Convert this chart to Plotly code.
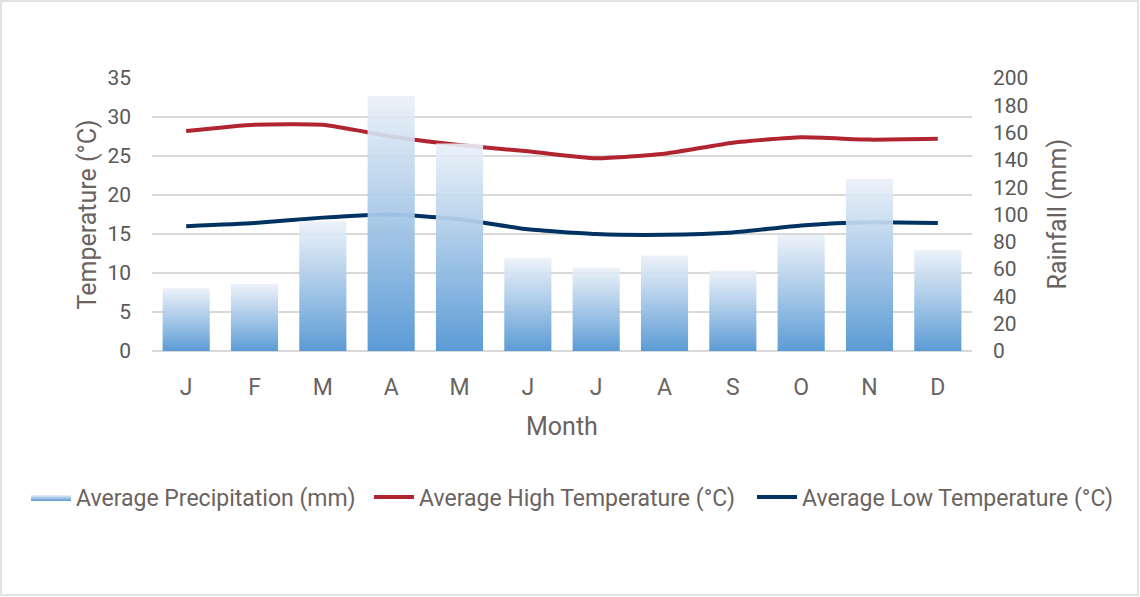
import plotly.graph_objects as go

months = ["J", "F", "M", "A", "M", "J", "J", "A", "S", "O", "N", "D"]
precip_mm = [46, 49, 95, 187, 152, 68, 61, 70, 59, 85, 126, 74]
high_c = [28.2, 29.0, 29.0, 27.5, 26.4, 25.6, 24.7, 25.3, 26.7, 27.4, 27.1, 27.2]
low_c = [16.0, 16.4, 17.1, 17.5, 16.9, 15.6, 15.0, 14.9, 15.2, 16.1, 16.5, 16.4]

temp_ticks = [0, 5, 10, 15, 20, 25, 30, 35]
rain_ticks = [0, 20, 40, 60, 80, 100, 120, 140, 160, 180, 200]

BAR_BOTTOM = "#5B9BD5"
BAR_TOP = "rgba(234,240,248,0.9)"
RED = "#B0252F"
NAVY = "#003361"
TEXT = "#595959"
TITLE = "#6B6360"
GRID = "#D9D9D9"
FONT = "Roboto"

W, H = 1140, 597
L, R, T, B = 152, 168, 78, 246
PW, PH = W - L - R, H - T - B

fig = go.Figure()

half = 0.345
xs = list(range(len(months)))
for i, v in enumerate(precip_mm):
    fig.add_trace(go.Scatter(
        x=[i - half, i + half, i + half, i - half, i - half],
        y=[0, 0, v, v, 0],
        mode="lines",
        line=dict(width=0, color=BAR_BOTTOM),
        fill="toself",
        fillcolor=BAR_BOTTOM,
        fillgradient=dict(type="vertical", start=0, stop=v,
                          colorscale=[[0, BAR_BOTTOM], [1, BAR_TOP]]),
        name="Average Precipitation (mm)",
        legendgroup="precip",
        legend="legend",
        showlegend=(i == 0),
        yaxis="y2",
        hoverinfo="skip",
    ))

fig.add_trace(go.Scatter(
    x=xs, y=high_c, mode="lines",
    line=dict(color=RED, width=4, shape="spline", smoothing=0.5),
    name="Average High Temperature (°C)",
    legend="legend2",
))
fig.add_trace(go.Scatter(
    x=xs, y=low_c, mode="lines",
    line=dict(color=NAVY, width=4, shape="spline", smoothing=0.5),
    name="Average Low Temperature (°C)",
    legend="legend3",
))


def legend_at(left_px):
    return dict(
        orientation="h", xref="container", yref="container",
        x=left_px / W, xanchor="left", y=1 - 497 / H, yanchor="middle",
        font=dict(size=23, color=TITLE),
        itemwidth=40, bgcolor="rgba(0,0,0,0)",
    )


fig.update_layout(
    width=W, height=H,
    margin=dict(l=L, r=R, t=T, b=B),
    paper_bgcolor="white", plot_bgcolor="white",
    font=dict(family=FONT, color=TEXT),
    xaxis=dict(
        range=[-0.5, len(months) - 0.5],
        tickmode="array", tickvals=xs, ticktext=months,
        tickfont=dict(size=23, color=TITLE),
        ticklabelstandoff=20,
        showgrid=False, zeroline=False,
        showline=False, fixedrange=True,
    ),
    yaxis=dict(
        range=[0, 35], tickmode="array", tickvals=temp_ticks,
        tickfont=dict(size=21, color=TEXT),
        ticklabelstandoff=20,
        showgrid=True, gridcolor=GRID, gridwidth=1.5,
        zeroline=True, zerolinecolor=GRID, zerolinewidth=1.5,
        showline=False,
    ),
    yaxis2=dict(
        range=[0, 200], tickmode="array", tickvals=rain_ticks,
        overlaying="y", side="right",
        tickfont=dict(size=21, color=TEXT),
        ticklabelstandoff=20,
        showgrid=False, zeroline=False, showline=False,
    ),
    legend=legend_at(26),
    legend2=legend_at(369),
    legend3=legend_at(752),
    showlegend=True,
)

fig.add_annotation(text="Temperature (°C)", xref="paper", yref="paper",
                   x=(87 - L) / PW, y=0.5, textangle=-90, showarrow=False,
                   font=dict(size=25, color=TITLE), xanchor="center", yanchor="middle")
fig.add_annotation(text="Rainfall (mm)", xref="paper", yref="paper",
                   x=(1057 - L) / PW, y=0.5, textangle=-90, showarrow=False,
                   font=dict(size=25, color=TITLE), xanchor="center", yanchor="middle")
fig.add_annotation(text="Month", xref="paper", yref="paper",
                   x=(562 - L) / PW, y=(T + PH - 426) / PH, showarrow=False,
                   font=dict(size=25, color=TITLE), xanchor="center", yanchor="middle")

fig.add_shape(type="rect", xref="paper", yref="paper",
              x0=(1 - L) / PW, x1=(W - 2 - L) / PW,
              y0=(T + PH - (H - 2)) / PH, y1=(T + PH - 1) / PH,
              line=dict(color=GRID, width=1.5), fillcolor="rgba(0,0,0,0)", layer="below")

fig.write_html("out.html", config={"displayModeBar": False},
               post_script="document.body.style.margin='0';")
